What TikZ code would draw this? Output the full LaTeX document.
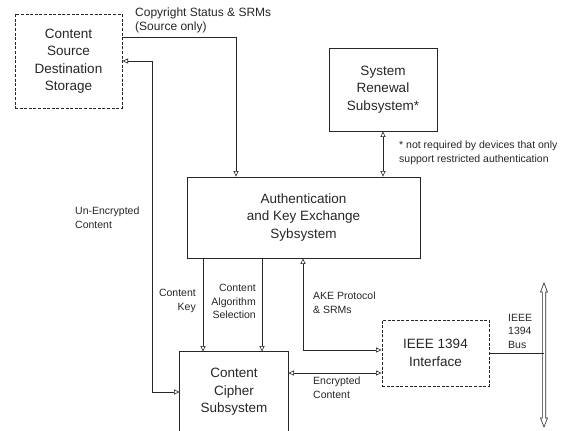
\documentclass[tikz,border=0pt]{standalone}
\usepackage{fontspec}
\setmainfont{Liberation Sans}
\usetikzlibrary{arrows.meta}
\definecolor{ink}{rgb}{0.15,0.15,0.15}
\begin{document}
\begin{tikzpicture}[x=1pt,y=-1pt,
  every node/.style={text=ink},
  box/.style={draw=ink, line width=0.8pt, align=center, inner sep=0pt,
    font=\fontsize{13.5}{17.5}\selectfont},
  dashbox/.style={box, line width=1pt, dash pattern=on 3pt off 1.6pt},
  lbl/.style={inner sep=0pt, font=\fontsize{10.5}{13.5}\selectfont},
  wire/.style={draw=ink, line width=0.6pt},
  tip/.style={wire, -{Triangle[open,length=5.5pt,width=5pt]}},
  tips/.style={wire, {Triangle[open,length=5.5pt,width=5pt]}-{Triangle[open,length=5.5pt,width=5pt]}}]
\useasboundingbox (0,0) rectangle (582,431);

% blocks
\node[dashbox, minimum width=107pt, minimum height=94pt] (content) at (68.5,61)
  {Content\\Source\\Destination\\Storage};
\node[box, minimum width=108pt, minimum height=83pt] (renew) at (383,89.5)
  {System\\Renewal\\Subsystem*};
\node[box, minimum width=233pt, minimum height=81pt] (auth) at (303.5,217.5)
  {Authentication\\and Key Exchange\\Sybsystem};
\node[box, draw=none, minimum width=108pt, minimum height=80pt] (cipher) at (234,392)
  {Content\\Cipher\\Subsystem};
\draw[ink, line width=0.8pt] (cipher.north west |- 0,431) -- (cipher.north west)
  -- (cipher.north east) -- (cipher.north east |- 0,431);
\node[dashbox, line width=0.9pt, minimum width=107pt, minimum height=66pt] (ieee) at (435.5,353)
  {IEEE 1394\\Interface};

% routing columns
\coordinate (cs) at (236,37);
\coordinate (ue) at (152,0);
\coordinate (ck) at (203,0);
\coordinate (ca) at (262,0);
\coordinate (ake) at (303,350);
\coordinate (enc) at (0,373);
\coordinate (bus) at (544,0);

% connectors
\draw[tip] (content.east |- cs) -| (auth.north -| cs);
\draw[tips] (content.east) -| (ue |- cipher.west) -- (cipher.west);
\draw[tips] (renew.south) -- (auth.north -| renew.south);
\draw[tip] (auth.south -| ck) -- (cipher.north -| ck);
\draw[tip] (auth.south -| ca) -- (cipher.north -| ca);
\draw[tips] (auth.south -| ake) -- (ake) -- (ieee.west |- ake);
\draw[tips] (cipher.east |- enc) -- (ieee.west |- enc);

% 1394 bus: hollow double-headed arrow
\coordinate (bustop) at (544,283);
\coordinate (busbot) at (544,427);
\draw[ink, line width=0.6pt, fill=white]
  (bustop) -- ++(3.5,9) -- ++(-1.8,0) -- ++(0,126) -- ++(1.8,0)
  -- (busbot) -- ++(-3.5,-9) -- ++(1.8,0) -- ++(0,-126) -- ++(-1.8,0) -- cycle;
\draw[wire] (ieee.east) -- (ieee.east -| bus);

% labels
\node[lbl, anchor=north west, align=left, font=\fontsize{12}{13.5}\selectfont] (lcs) at (135,8)
  {Copyright Status \& SRMs\\(Source only)};
\node[lbl, anchor=north west, align=left] (lnote) at (399,141)
  {\fontsize{10.5}{16}\selectfont * not required by devices that only\\support restricted authentication};
\node[lbl, anchor=north west, align=left] (lue) at (75,207) {Un-Encrypted\\Content};
\node[lbl, anchor=north east, align=right] (lck) at (196,289) {Content\\Key};
\node[lbl, anchor=north east, align=right] (lca) at (256,284) {Content\\Algorithm\\Selection};
\node[lbl, anchor=north west, align=left] (lake) at (313,292) {AKE Protocol\\\& SRMs};
\node[lbl, anchor=north west, align=left] (lenc) at (313,377) {Encrypted\\Content};
\node[lbl, anchor=north west, align=left] (lbus) at (508,314) {IEEE\\1394\\Bus};
\end{tikzpicture}
\end{document}
